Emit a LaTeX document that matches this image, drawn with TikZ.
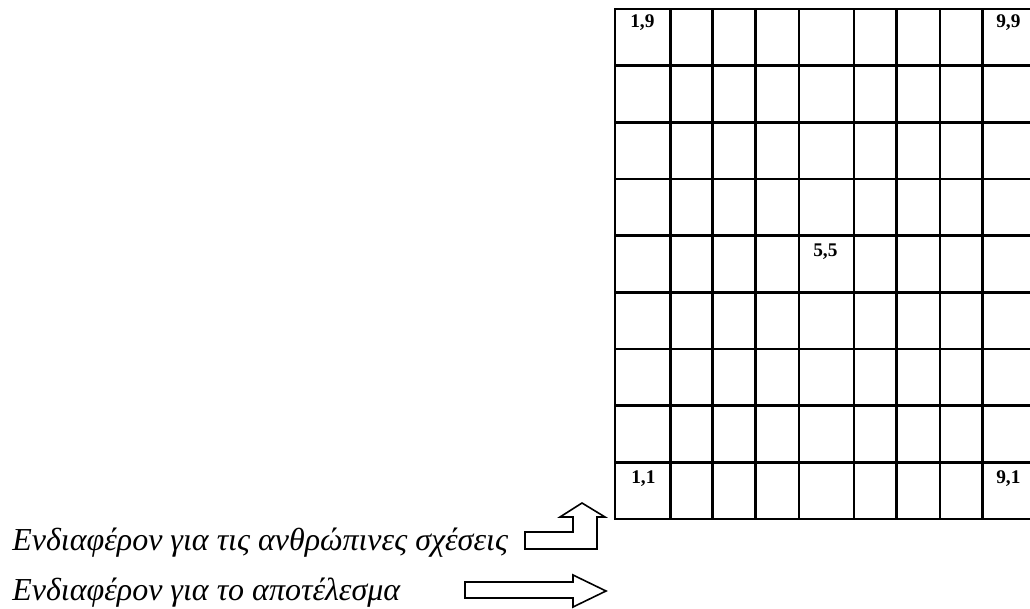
\documentclass[tikz,border=0pt]{standalone}
\usepackage{fontspec}
\setmainfont{Liberation Serif}
\usetikzlibrary{positioning}
\tikzset{
  keli/.style={font=\bfseries\fontsize{14.5}{17}\selectfont,anchor=base west,inner sep=0pt},
  epig/.style={font=\itshape\fontsize{24}{28}\selectfont,anchor=base west,inner sep=0pt},
  velos/.style={draw,line width=1.2pt,fill=white,line join=miter},
  grammi/.style={line width=1.9pt,line cap=rect},
}

\begin{document}
\begin{tikzpicture}[x=0.75pt,y=-0.75pt]
  \useasboundingbox (0,0) rectangle (1030,609);
  % plegma 9x9
  \foreach \x in {615,670.7,712.7,755.7,799,854,896.7,940,982.3,1037}
    \draw[grammi] (\x,9) -- (\x,519);
  \foreach \i in {0,...,9}
    \draw[grammi] (615,9+56.67*\i) -- (1037,9+56.67*\i);
  \node[keli] (k19) at (630,28) {1,9};
  \node[keli] (k99) at (996,28) {9,9};
  \node[keli] (k55) at (813,257) {5,5};
  \node[keli] (k11) at (631,483) {1,1};
  \node[keli] (k91) at (996,483) {9,1};
  % axones
  \node[epig] (sxeseis) at (12,550) {Ενδιαφέρον για τις ανθρώπινες σχέσεις};
  \node[epig] (apotel) at (12,600) {Ενδιαφέρον για το αποτέλεσμα};
  \draw[velos] (525,549) -- (525,532) -- (573,532) -- (573,517) -- (560,517)
    -- (582,503) -- (605,517) -- (597,517) -- (597,549) -- cycle;
  \draw[velos] (465,582) -- (573,582) -- (573,575) -- (606,591) -- (573,607)
    -- (573,598) -- (465,598) -- cycle;
\end{tikzpicture}
\end{document}
